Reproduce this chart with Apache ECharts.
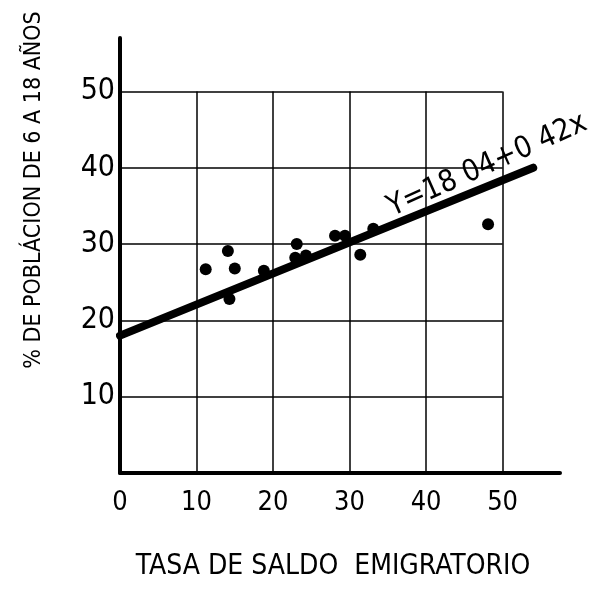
<!DOCTYPE html>
<html lang="es">
  <head>
    <meta charset="UTF-8" />
    <title>Tasa de saldo emigratorio</title>
    <script src="https://cdn.jsdelivr.net/npm/echarts@6/dist/echarts.min.js"></script>
    <style>
      html, body { margin: 0; padding: 0; background: #fff; }
    </style>
  </head>
  <body>
    <div id="main" style="width: 598px; height: 594px"></div>
    <script type="text/javascript">
      const emigracion = [11.2, 14.1, 15.0, 14.3, 18.8, 23.1, 22.9, 24.3, 28.1, 29.4, 31.4, 33.1, 48.1];
      const poblacion = [26.7, 29.1, 26.8, 22.8, 26.5, 30.0, 28.2, 28.5, 31.1, 31.1, 28.6, 32.0, 32.6];

      // Regression line end points, as drawn
      const rectaX = [0, 54];
      const rectaY = [18.0, 40.0];
      const ecuacion = "Y=18 04+0 42x";

      // Grid squares go 0..50, the axes run a bit longer
      const gridTicks = [10, 20, 30, 40, 50];

      const font = "'DejaVu Sans Condensed', 'DejaVu Sans', sans-serif";

      let myChart = echarts.init(document.getElementById("main"));

      // Grid lines as segments, so they stop at 50 like in the original
      const gridSegments = [];
      gridTicks.forEach((t) => {
        gridSegments.push([{ coord: [t, 0] }, { coord: [t, 50] }]);
        gridSegments.push([{ coord: [0, t] }, { coord: [50, t] }]);
      });

      let options = {
        backgroundColor: "#fff",
        animation: false,
        grid: { left: 120, right: 38, top: 38, bottom: 121, outerBoundsMode: "none" },
        xAxis: {
          type: "value",
          min: 0,
          max: 57.5,
          interval: 10,
          name: "TASA DE SALDO  EMIGRATORIO",
          nameLocation: "middle",
          nameGap: 80,
          nameTextStyle: { color: "#000", fontFamily: font, fontSize: 28, padding: [0, 14, 0, 0] },
          axisLine: { show: true, onZero: false, lineStyle: { color: "#000", width: 4 } },
          axisTick: { show: false },
          splitLine: { show: false },
          axisLabel: {
            color: "#000",
            fontFamily: font,
            fontSize: 27,
            margin: 16,
            showMaxLabel: false,
            formatter: (v) => (v % 10 === 0 ? String(v) : ""),
          },
        },
        yAxis: {
          type: "value",
          min: 0,
          max: 57,
          interval: 10,
          axisLine: { show: true, onZero: false, lineStyle: { color: "#000", width: 4 } },
          axisTick: { show: false },
          splitLine: { show: false },
          axisLabel: {
            color: "#000",
            fontFamily: font,
            fontSize: 30,
            margin: 5,
            showMinLabel: false,
            showMaxLabel: false,
            formatter: (v) => (v % 10 === 0 && v > 0 ? String(v) : ""),
          },
        },
        graphic: [
          {
            type: "text",
            x: 34,
            y: 190,
            rotation: Math.PI / 2,
            style: {
              text: "% DE POBLÁCION DE 6 A 18 AÑOS",
              fill: "#000",
              font: "23px " + font,
              align: "center",
              verticalAlign: "middle",
            },
          },
        ],
        series: [
          {
            type: "scatter",
            data: emigracion.map((x, i) => [x, poblacion[i]]),
            symbol: "circle",
            symbolSize: 12,
            itemStyle: { color: "#000", opacity: 1 },
            z: 3,
            markLine: {
              silent: true,
              symbol: ["none", "none"],
              label: { show: false },
              lineStyle: { color: "#000", width: 1.5, type: "solid", opacity: 1 },
              emphasis: { disabled: true },
              data: gridSegments,
            },
          },
          {
            type: "line",
            data: rectaX.map((x, i) => [x, rectaY[i]]),
            showSymbol: false,
            lineStyle: { color: "#000", width: 8, cap: "round" },
            z: 4,
            markPoint: {
              symbol: "circle",
              symbolSize: 0,
              data: [{ coord: [48, 40.3] }],
              label: {
                show: true,
                formatter: ecuacion,
                position: "inside",
                rotate: 24,
                color: "#000",
                fontFamily: font,
                fontSize: 30,
              },
            },
          },
        ],
      };

      myChart.setOption(options);
    </script>
  </body>
</html>
